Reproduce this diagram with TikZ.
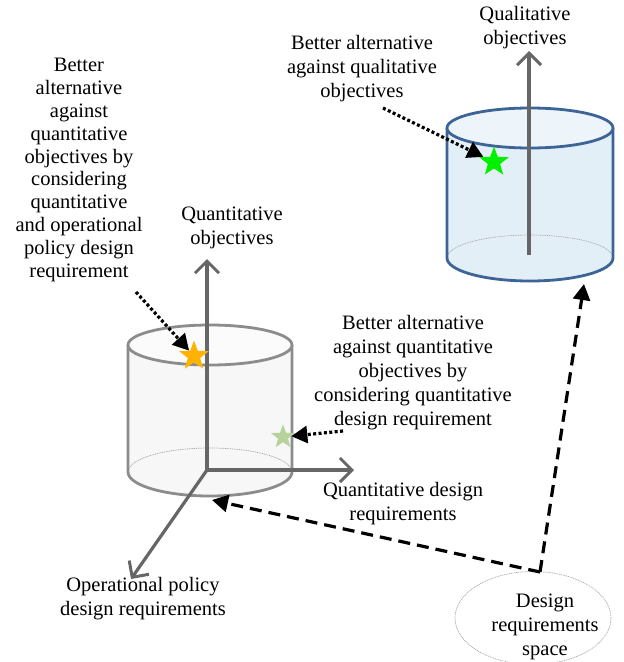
\documentclass[tikz,border=0pt]{standalone}
\usepackage{fontspec}
\setmainfont{Liberation Serif}
\usetikzlibrary{arrows.meta,shapes.geometric}

\definecolor{axisgray}{HTML}{666666}
\definecolor{cylgray}{HTML}{8C8C8C}
\definecolor{cylfill}{HTML}{F7F7F7}
\definecolor{cyltop}{HTML}{FBFBFB}
\definecolor{cylblue}{HTML}{3C6496}
\definecolor{bluefill}{HTML}{E3EFF6}
\definecolor{bluetop}{HTML}{EDF5FA}
\definecolor{starorange}{HTML}{FFB300}
\definecolor{starpale}{HTML}{B8D29C}
\definecolor{stargreen}{HTML}{00F000}

\begin{document}
\begin{tikzpicture}[x=1pt,y=-1pt,
  lbl/.style={font=\fontsize{20.5}{24}\selectfont, align=center, inner sep=0pt},
  tightlbl/.style={font=\fontsize{20.5}{22.8}\selectfont, align=center, inner sep=0pt},
  axisline/.style={draw=axisgray, line width=3.2pt,
    -{Straight Barb[length=12pt,width=24pt,line width=3pt]}},
  dotarrow/.style={draw=black, line width=3.2pt, dash pattern=on 3pt off 2.4pt,
    -{Triangle[length=16pt,width=17pt]}},
  dasharrow/.style={draw=black, line width=3.2pt, dash pattern=on 12pt off 7pt,
    -{Triangle[length=16pt,width=17pt]}},
  starmark/.style={star, star points=5, star point ratio=2.4, inner sep=0pt, draw=none},
  backrim/.style={line width=0.7pt, dash pattern=on 1pt off 0.8pt}
]
\useasboundingbox (0,0) rectangle (624,662);

% ---------- left cylinder (quantitative space) ----------
\fill[cylfill] (128,345) -- (128,472)
  arc[start angle=180,end angle=0,x radius=82,y radius=24] -- (292,345) -- cycle;
\draw[cylgray!80, backrim] (292,472)
  arc[start angle=0,end angle=-180,x radius=82,y radius=24];
\draw[cylgray, line width=2.8pt] (128,345) -- (128,472)
  arc[start angle=180,end angle=0,x radius=82,y radius=24] -- (292,345);
\draw[cylgray, line width=2.8pt, fill=cyltop] (210,345) ellipse[x radius=82,y radius=20];

% axes of the quantitative space
\coordinate (o1) at (207,470);
\coordinate (zq) at (207,259);
\coordinate (xq) at (354,470);
\coordinate (yq) at (131,579);
\draw[axisline] (o1) -- (zq);
\draw[axisline] (o1) -- (xq);
\draw[axisline] (o1) -- (yq);

% ---------- right cylinder (qualitative space) ----------
\fill[bluefill] (447,128) -- (447,258)
  arc[start angle=180,end angle=0,x radius=83,y radius=23] -- (613,128) -- cycle;
\draw[gray!70, backrim] (613,258)
  arc[start angle=0,end angle=-180,x radius=83,y radius=23];
\draw[cylblue, line width=2.8pt] (447,128) -- (447,258)
  arc[start angle=180,end angle=0,x radius=83,y radius=23] -- (613,128);
\draw[cylblue, line width=2.8pt, fill=bluetop] (530,128) ellipse[x radius=83,y radius=20];

\coordinate (o2) at (529,255);
\coordinate (zr) at (529,51);
\draw[axisline] (o2) -- (zr);

% ---------- alternatives ----------
\node[starmark, fill=starorange, minimum size=31pt] (s1) at (194,356) {};
\node[starmark, fill=starpale, minimum size=25pt] (s2) at (283,437) {};
\node[starmark, fill=stargreen, minimum size=31pt] (s3) at (494,162) {};

% ---------- labels ----------
\node[lbl] (qualobj) at (525,28) {Qualitative\\objectives};
\node[lbl] (betterqual) at (362,69) {Better alternative\\against qualitative\\objectives};
\node[tightlbl] (betterop) at (79,170) {Better\\alternative\\against\\quantitative\\objectives by\\considering\\quantitative\\and operational\\policy design\\requirement};
\node[lbl] (quantobj) at (232,228) {Quantitative\\objectives};
\node[lbl] (betterquant) at (413,373) {Better alternative\\against quantitative\\objectives by\\considering quantitative\\design requirement};
\node[lbl] (quantdes) at (403,504) {Quantitative design\\requirements};
\node[lbl] (opdes) at (143,599) {Operational policy\\design requirements};
\node[ellipse, draw=gray!70, line width=0.7pt, dash pattern=on 1pt off 0.8pt,
  minimum width=156pt, minimum height=93pt, inner sep=0pt] (space) at (533,618) {};
\node[lbl] (spacetxt) at (545,627) {Design\\requirements\\space};

% ---------- pointers to the alternatives ----------
\coordinate (d1) at (136,292);
\coordinate (d2) at (343,431);
\coordinate (d3) at (383,108);
\draw[dotarrow] (d1) -- (s1);
\draw[dotarrow] (d2) -- (s2);
\draw[dotarrow] (d3) -- (s3);

% ---------- mapping of the design requirements space ----------
\coordinate (corner) at (540,572);
\coordinate (tipq) at (212,500);
\coordinate (tipr) at (584,284);
\draw[dasharrow] (corner) -- (tipq);
\draw[dasharrow] (corner) -- (tipr);
\end{tikzpicture}
\end{document}
